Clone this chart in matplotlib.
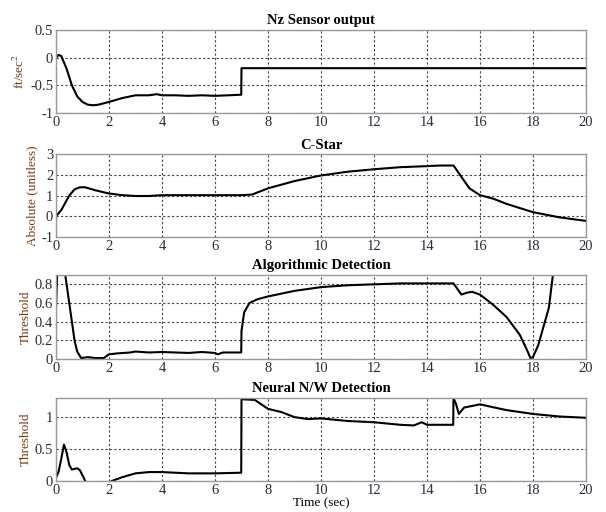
import matplotlib
matplotlib.use("Agg")
import matplotlib.pyplot as plt
import numpy as np

# Nz sensor output (ft/sec^2)
t_nz = [0, 0.1, 0.2, 0.4, 0.6, 0.8, 1.0, 1.2, 1.4, 1.6, 2.0, 2.5, 3.0, 3.5, 3.8, 4.0,
        4.5, 5.0, 5.5, 6.0, 6.5, 6.99, 7.0, 20]
nz = [0.0, 0.05, 0.03, -0.2, -0.5, -0.7, -0.8, -0.85, -0.86, -0.85, -0.8, -0.73, -0.68,
      -0.68, -0.66, -0.68, -0.68, -0.69, -0.68, -0.69, -0.68, -0.67, -0.19, -0.19]

# C-Star (absolute, unitless)
t_cs = [0, 0.2, 0.5, 0.7, 0.9, 1.1, 1.5, 2.0, 2.5, 3.0, 3.5, 4.0, 5.0, 6.0, 7.0, 7.4,
        8.0, 9.0, 10.0, 11.0, 12.0, 13.0, 14.0, 14.5, 15.0, 15.3, 15.6, 16.0, 16.5,
        17.0, 18.0, 19.0, 20.0]
cstar = [0.0, 0.3, 1.0, 1.3, 1.4, 1.4, 1.25, 1.1, 1.02, 0.98, 0.98, 1.02, 1.02, 1.02,
         1.02, 1.05, 1.35, 1.7, 1.97, 2.15, 2.27, 2.37, 2.42, 2.45, 2.45, 1.9, 1.35,
         1.02, 0.85, 0.6, 0.2, -0.05, -0.22]

# Algorithmic detection threshold
t_alg = [0, 0.05, 0.15, 0.3, 0.35, 0.5, 0.7, 0.8, 0.95, 1.2, 1.5, 1.8, 2.0, 2.3, 2.8,
         3.0, 3.5, 4.0, 5.0, 5.5, 6.0, 6.1, 6.3, 6.99, 7.0, 7.1, 7.3, 7.6, 8.0, 9.0,
         10.0, 11.0, 12.0, 13.0, 14.0, 15.0, 15.1, 15.3, 15.5, 15.7, 16.0, 16.5, 17.0,
         17.5, 17.8, 17.9, 18.0, 18.2, 18.4, 18.6, 18.75, 19.0]
alg = [0.55, 0.95, 1.0, 0.95, 0.9, 0.6, 0.2, 0.08, 0.01, 0.02, 0.01, 0.01, 0.05, 0.06,
       0.07, 0.08, 0.07, 0.075, 0.065, 0.075, 0.065, 0.05, 0.07, 0.07, 0.3, 0.5, 0.6,
       0.64, 0.67, 0.73, 0.77, 0.79, 0.8, 0.81, 0.81, 0.81, 0.77, 0.69, 0.71, 0.72,
       0.69, 0.58, 0.45, 0.26, 0.08, 0.01, 0.02, 0.15, 0.35, 0.55, 0.9, 1.3]

# Neural N/W detection threshold
t_nn = [0, 0.1, 0.2, 0.3, 0.4, 0.5, 0.6, 0.8, 0.9, 1.05, 1.1, 1.3, 1.7, 2.0, 2.1,
        2.5, 3.0, 3.5, 4.0, 5.0, 6.0, 6.99, 7.0, 7.5, 8.0, 8.5, 9.0, 9.5, 10.0, 11.0,
        12.0, 13.0, 13.5, 13.8, 14.0, 14.99, 15.0, 15.1, 15.2, 15.4, 16.0, 17.0,
        18.0, 19.0, 20.0]
nn = [0.05, 0.15, 0.35, 0.57, 0.45, 0.25, 0.18, 0.2, 0.17, 0.05, 0.0, -0.1, -0.15,
      -0.05, 0.0, 0.06, 0.12, 0.14, 0.14, 0.12, 0.12, 0.13, 1.28, 1.27, 1.13, 1.08,
      1.0, 0.97, 0.98, 0.94, 0.92, 0.88, 0.87, 0.92, 0.88, 0.88, 1.3, 1.2, 1.05,
      1.15, 1.2, 1.11, 1.05, 1.01, 0.99]

panels = [
    ("Nz Sensor output", "ft/sec$^2$", t_nz, nz, (-1, 0.5), [-1, -0.5, 0, 0.5], ["-1", "-0.5", "0", "0.5"]),
    ("C-Star", "Absolute (unitless)", t_cs, cstar, (-1, 3), [-1, 0, 1, 2, 3], ["-1", "0", "1", "2", "3"]),
    ("Algorithmic Detection", "Threshold", t_alg, alg, (0, 0.9), [0, 0.2, 0.4, 0.6, 0.8], ["0", "0.2", "0.4", "0.6", "0.8"]),
    ("Neural N/W Detection", "Threshold", t_nn, nn, (0, 1.3), [0, 0.5, 1], ["0", "0.5", "1"]),
]

plt.rcParams["font.family"] = ["Liberation Serif", "DejaVu Serif"]
plt.rcParams["mathtext.fontset"] = "stix"

fig = plt.figure(figsize=(6.06, 5.12), dpi=100)
boxes = [(0.7793, 0.9414), (0.537, 0.699), (0.2988, 0.4629), (0.0605, 0.2227)]
left, right = 0.0924, 0.967
tick_col = "#2b2b3a"
lab_col = "#7a3a10"

for (title, ylab, t, y, ylim, yt, ytl), (b, top) in zip(panels, boxes):
    ax = fig.add_axes([left, b, right - left, top - b])
    ax.plot(t, y, color="black", linewidth=1.5)
    ax.set_xlim(0, 20)
    ax.set_ylim(*ylim)
    ax.set_xticks(np.arange(0, 21, 2))
    ax.set_yticks(yt)
    ax.set_yticklabels(ytl)
    ax.grid(True, linestyle=(0, (2, 2)), color="#444444", linewidth=0.8)
    ax.tick_params(length=0, labelsize=10.5, colors=tick_col, pad=2)
    for s in ax.spines.values():
        s.set_color("#999999")
        s.set_linewidth(1.0)
    ax.set_title(title, fontsize=10.5, fontweight="bold", pad=4)
    ax.set_ylabel(ylab, fontsize=9.5, color=lab_col, labelpad=2)

ax.set_xlabel("Time (sec)", fontsize=9.5, labelpad=0)

fig.savefig("out.png", dpi=100)
